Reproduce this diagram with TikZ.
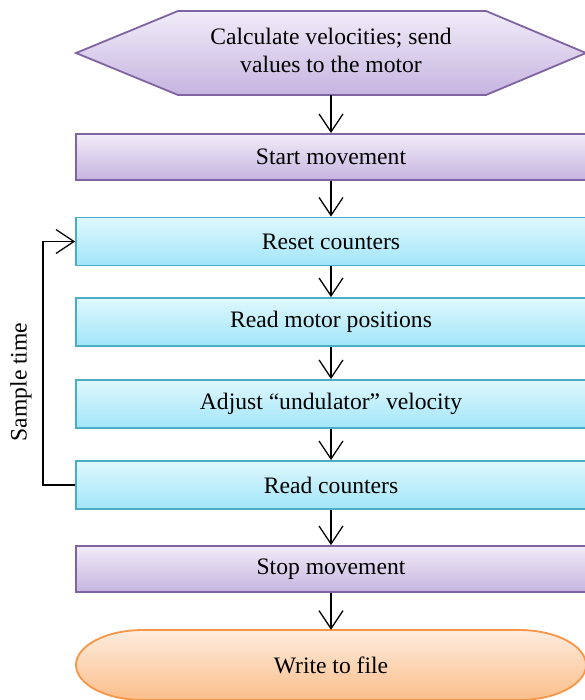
\documentclass[tikz,border=0pt]{standalone}
\usepackage{fontspec}
\setmainfont{Liberation Serif}
\newfontfamily\tnr{Liberation Serif}
\usetikzlibrary{arrows.meta,backgrounds}
\definecolor{purB}{HTML}{8064A2}
\definecolor{purT}{HTML}{F1ECF8}
\definecolor{purBot}{HTML}{C6B4E0}
\definecolor{cyB}{HTML}{4BACC6}
\definecolor{cyT}{HTML}{DFF8FD}
\definecolor{cyBot}{HTML}{A2E5F9}
\definecolor{orB}{HTML}{F79646}
\definecolor{orT}{HTML}{FDECDE}
\definecolor{orBot}{HTML}{FBBE8A}
\begin{document}
\begin{tikzpicture}[x=1pt,y=-1pt,
  txt/.style={font=\tnr\fontsize{23.6}{28}\selectfont, text=black},
  pbox/.style={txt, draw=purB, line width=1.8pt, top color=purT, bottom color=purBot,
    minimum width=510pt, minimum height=46pt, inner sep=0pt},
  cbox/.style={txt, draw=cyB, line width=1.8pt, top color=cyT, bottom color=cyBot,
    minimum width=510pt, minimum height=48pt, inner sep=0pt},
  flow/.style={-{Straight Barb[length=18pt,width=24pt]}, line width=1.3pt, black}
]
\useasboundingbox (0,0) rectangle (585,700);
\clip (0,0) rectangle (585,700);

\node[txt, align=center, minimum width=510pt, minimum height=90pt, inner sep=0pt] (hex) at (331,50)
  {Calculate velocities; send\\values to the motor};
\node[pbox] (start) at (331,157) {Start movement};
\node[cbox] (reset) at (331,241.5) {Reset counters};
\node[cbox] (motor) at (331,322) {Read motor positions};
\node[cbox] (adjust) at (331,404) {Adjust “undulator” velocity};
\node[cbox] (readc) at (331,485) {Read counters};
\node[pbox] (stop) at (331,569) {Stop movement};
\node[txt, minimum width=510pt, minimum height=70pt, inner sep=0pt] (term) at (331,665) {Write to file};
\node[txt, rotate=90, inner sep=0pt] (st) at (21,382) {Sample time};

\begin{scope}[on background layer]
  \draw[draw=purB, line width=1.8pt, top color=purT, bottom color=purBot]
    (76,53) -- (178,11) -- (486,11) -- (586,53) -- (486,95) -- (178,95) -- cycle;
  \draw[draw=orB, line width=1.8pt, top color=orT, bottom color=orBot]
    (143,630) -- (519,630)
    .. controls (556,630) and (586,645.7) .. (586,665)
    .. controls (586,684.3) and (556,700) .. (519,700)
    -- (143,700)
    .. controls (106,700) and (76,684.3) .. (76,665)
    .. controls (76,645.7) and (106,630) .. (143,630) -- cycle;
\end{scope}

\draw[flow] (hex.south) -- (start.north);
\draw[flow] (start) -- (reset);
\draw[flow] (reset) -- (motor);
\draw[flow] (motor) -- (adjust);
\draw[flow] (adjust) -- (readc);
\draw[flow] (readc) -- (stop);
\draw[flow] (stop.south) -- (term.north);
\draw[flow] (readc.west) -- ++(-32,0) |- (reset.west);
\end{tikzpicture}
\end{document}
